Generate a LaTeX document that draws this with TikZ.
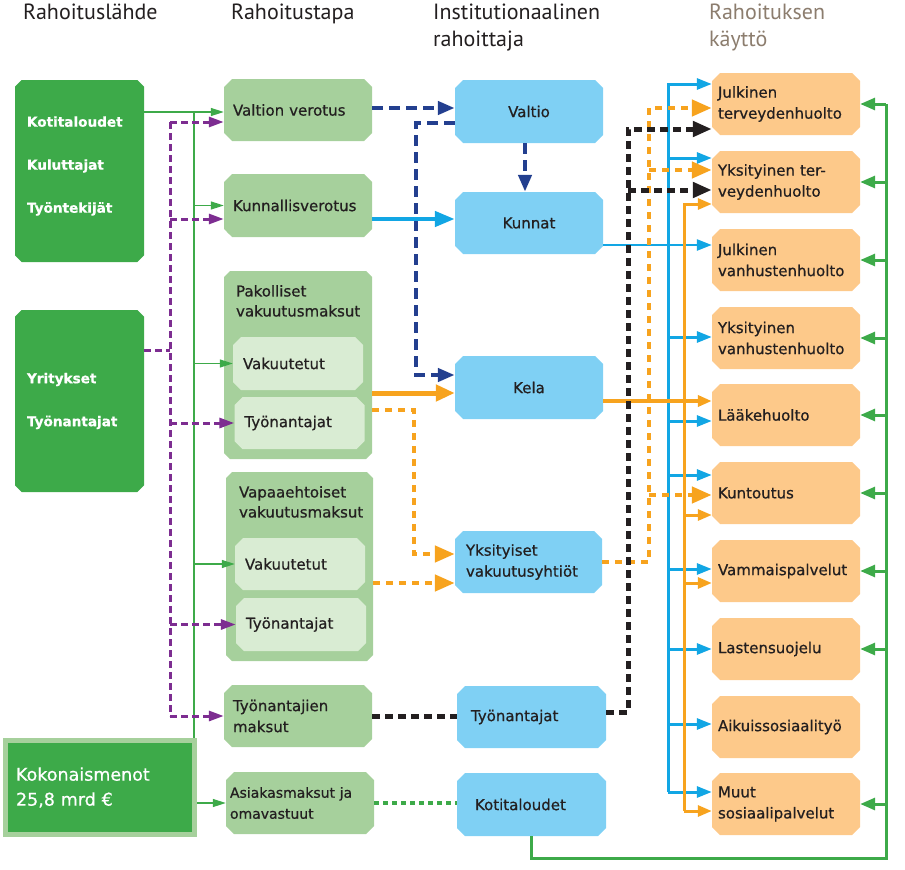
\documentclass[tikz,border=0pt]{standalone}
\usepackage{fontspec}
\setmainfont{DejaVu Sans}[FakeBold=0.7]
\newfontfamily\headfont{PT Sans}
\usetikzlibrary{arrows.meta,shapes.misc}
\definecolor{srcgreen}{RGB}{61,170,73}
\definecolor{waygreen}{RGB}{166,208,156}
\definecolor{subgreen}{RGB}{217,236,211}
\definecolor{instblue}{RGB}{127,208,244}
\definecolor{useorange}{RGB}{253,201,138}
\definecolor{navyline}{RGB}{35,63,143}
\definecolor{blueline}{RGB}{18,166,228}
\definecolor{orangeline}{RGB}{247,163,30}
\definecolor{darkline}{RGB}{35,31,32}
\definecolor{purpleline}{RGB}{125,45,145}
\definecolor{headbrown}{RGB}{140,125,110}
\begin{document}
\begin{tikzpicture}[x=1pt, y=-1pt,
  headtext/.style={anchor=north west, inner sep=0pt, align=left, text=darkline, font=\headfont\fontsize{22}{26.5}\selectfont},
  srcbox/.style={chamfered rectangle, chamfered rectangle sep=12pt, fill=srcgreen, minimum width=129pt, minimum height=182pt},
  srclabel/.style={anchor=west, xshift=12pt, inner sep=0pt, align=left, text=white, font=\bfseries\fontsize{13.6}{43}\selectfont},
  flatbox/.style={chamfered rectangle, chamfered rectangle sep=4pt, inner ysep=2pt, text=darkline, font=\fontsize{15}{21}\selectfont},
  waybox/.style={flatbox, fill=waygreen, minimum width=148pt, minimum height=62pt, text width=130pt, inner xsep=5pt, align=left},
  subbox/.style={flatbox, fill=subgreen, minimum width=130pt, minimum height=53pt, text width=110pt, inner xsep=6pt, align=left},
  titletext/.style={anchor=north west, xshift=9pt, yshift=-11pt, inner sep=0pt, align=left, text=darkline, font=\fontsize{15}{20}\selectfont},
  instbox/.style={flatbox, fill=instblue, minimum width=148pt, minimum height=62pt, align=center},
  usebox/.style={flatbox, fill=useorange, minimum width=148pt, minimum height=62pt, text width=136pt, inner xsep=2pt, align=left},
  greenthin/.style={srcgreen, line width=1.3pt, -{Triangle[length=13pt,width=8pt]}},
  greenback/.style={srcgreen, line width=3pt, -{Triangle[length=15pt,width=12pt]}},
  greendots/.style={srcgreen, line width=3.5pt, dash pattern=on 5pt off 4pt},
  purpledash/.style={purpleline, line width=3pt, dash pattern=on 7pt off 4pt, -{Triangle[length=15pt,width=10pt]}},
  navydash/.style={navyline, line width=4.5pt, dash pattern=on 11pt off 6pt, -{Triangle[length=17pt,width=13pt]}},
  bluethick/.style={blueline, line width=4.5pt, -{Triangle[length=20pt,width=15pt]}},
  blueflow/.style={blueline, line width=3pt, -{Triangle[length=15pt,width=11pt]}},
  orangethick/.style={orangeline, line width=5pt, -{Triangle[length=19pt,width=16pt]}},
  orangeflow/.style={orangeline, line width=3pt, -{Triangle[length=14pt,width=11pt]}},
  orangedots/.style={orangeline, line width=4.5pt, dash pattern=on 6.5pt off 6.5pt, -{Triangle[length=20pt,width=16pt]}},
  darkdots/.style={darkline, line width=5pt, dash pattern=on 8pt off 5pt, -{Triangle[length=19pt,width=15pt]}}]
\useasboundingbox (0,0) rectangle (905,870);
% headers
\node[headtext] (hlahde) at (23,4) {Rahoituslähde};
\node[headtext] (htapa) at (231,4) {Rahoitustapa};
\node[headtext] (hinst) at (433,4) {Institutionaalinen\\rahoittaja};
\node[headtext, text=headbrown] (hkaytto) at (709,4) {Rahoituksen\\käyttö};
% rahoituslähde
\node[srcbox, label={[srclabel, yshift=5pt]west:Kotitaloudet\\Kuluttajat\\Työntekijät}] (kotit) at (79.5,171) {};
\node[srcbox, label={[srclabel]west:Yritykset\\Työnantajat}] (yrit) at (79.5,401) {};
\node[fill=srcgreen, draw=waygreen, line width=5pt, minimum width=189pt, minimum height=94pt, text width=168pt, inner xsep=10.5pt, align=left, text=white, font=\fontsize{17.5}{25}\selectfont] (kokon) at (100,787.5) {Kokonaismenot\\25,8 mrd €};
% rahoitustapa
\node[waybox] (valver) at (298,110) {Valtion verotus};
\node[waybox, minimum height=63pt] (kunver) at (298,205.5) {Kunnallisverotus};
\node[waybox, minimum height=188pt, label={[titletext]north west:Pakolliset\\vakuutusmaksut}] (pakol) at (298,365) {};
\node[subbox] (pakvak) at (298,363.5) {Vakuutetut};
\node[subbox, minimum height=52pt] (paktyo) at (299.5,423) {Työnantajat};
\node[waybox, minimum width=147pt, minimum height=189pt, label={[titletext, xshift=1pt]north west:Vapaaehtoiset\\vakuutusmaksut}] (vapaa) at (299.5,566.5) {};
\node[subbox, minimum height=52pt] (vapvak) at (300,564) {Vakuutetut};
\node[subbox] (vaptyo) at (301,624.5) {Työnantajat};
\node[waybox] (tyomak) at (298,716) {Työnantajien\\maksut};
\node[waybox, text width=140pt, inner xsep=0pt, font=\fontsize{14}{21}\selectfont] (asiak) at (300,803) {Asiakasmaksut ja\\omavastuut};
% institutionaalinen rahoittaja
\node[instbox, minimum height=63pt] (valtio) at (529,111.5) {Valtio};
\node[instbox] (kunnat) at (529,223) {Kunnat};
\node[instbox, minimum height=63pt] (kela) at (529,387.5) {Kela};
\node[instbox, minimum width=147pt, text width=125pt, align=left] (yvak) at (528.5,562) {Yksityiset\\vakuutusyhtiöt};
\node[instbox, minimum width=149pt, text width=121pt, align=left] (tyonan) at (531.5,717) {Työnantajat};
\node[instbox, minimum width=149pt, minimum height=63pt, text width=113pt, align=left] (kotital) at (531.5,804.5) {Kotitaloudet};
% rahoituksen käyttö
\node[usebox] (jterv) at (786,104) {Julkinen\\terveydenhuolto};
\node[usebox] (ykterv) at (786,182) {Yksityinen ter-\\veydenhuolto};
\node[usebox] (jvanh) at (786,260) {Julkinen\\vanhustenhuolto};
\node[usebox] (ykvanh) at (786,338) {Yksityinen\\vanhustenhuolto};
\node[usebox] (laake) at (786,415) {Lääkehuolto};
\node[usebox] (kunto) at (786,493) {Kuntoutus};
\node[usebox] (vamma) at (786,571) {Vammaispalvelut};
\node[usebox] (laste) at (786,649) {Lastensuojelu};
\node[usebox] (aikui) at (786,727) {Aikuissosiaalityö};
\node[usebox] (muut) at (786,804) {Muut\\sosiaalipalvelut};
% green source lines
\coordinate (gsrc) at (194,112);
\draw[greenthin, -] (gsrc) -- (gsrc |- kokon.north);
\draw[greenthin] (kotit.east |- gsrc) -- (valver.west |- gsrc);
\draw[greenthin] (gsrc |- kunver.west) -- (kunver.west);
\draw[greenthin] (gsrc |- pakvak.west) -- (pakvak.west);
\draw[greenthin] (gsrc |- vapvak.west) -- (vapvak.west);
\draw[greenthin] (kokon.east |- asiak.west) -- (asiak.west);
% purple lines
\coordinate (pbus) at (170,350);
\draw[purpledash, -] (yrit.east |- pbus) -- (pbus);
\draw[purpledash, -] (pbus |- 0,122) -- (pbus |- tyomak.west);
\draw[purpledash] (pbus |- 0,122) -- (valver.west |- 0,122);
\draw[purpledash] (pbus |- 0,219) -- (kunver.west |- 0,219);
\draw[purpledash] (pbus |- paktyo.west) -- (paktyo.west);
\draw[purpledash] (pbus |- vaptyo.west) -- (vaptyo.west);
\draw[purpledash] (pbus |- tyomak.west) -- (tyomak.west);
% valtio
\coordinate (nbus) at (416,375);
\draw[navydash] (valver.east |- 0,108) -- (valtio.west |- 0,108);
\draw[navydash] (valtio.west |- 0,123) -| (nbus) -- (kela.west |- nbus);
\draw[navydash] ([xshift=-4pt]valtio.south) -- ([xshift=-4pt]kunnat.north);
% kunnat
\coordinate (bbus) at (668,245);
\draw[bluethick] (kunver.east |- 0,219) -- (kunnat.west |- 0,219);
\draw[blueflow, line width=2.5pt] (kunnat.east |- bbus) -- (jvanh.west |- bbus);
\draw[blueflow] (bbus |- 0,792) -- (bbus |- 0,84) -- (jterv.west |- 0,84);
\draw[blueflow] (bbus |- 0,158) -- (ykterv.west |- 0,158);
\draw[blueflow] (bbus |- 0,337) -- (ykvanh.west |- 0,337);
\draw[blueflow] (bbus |- 0,421) -- (laake.west |- 0,421);
\draw[blueflow] (bbus |- 0,475) -- (kunto.west |- 0,475);
\draw[blueflow] (bbus |- 0,569) -- (vamma.west |- 0,569);
\draw[blueflow] (bbus |- 0,649) -- (laste.west |- 0,649);
\draw[blueflow] (bbus |- 0,724) -- (aikui.west |- 0,724);
\draw[blueflow] (bbus |- 0,792) -- (muut.west |- 0,792);
% kela
\coordinate (obus) at (684,401);
\draw[orangethick] (pakol.east |- 0,393) -- (kela.west |- 0,393);
\draw[orangeflow, line width=3.5pt] (kela.east |- obus) -- (laake.west |- obus);
\draw[orangeflow] (obus |- 0,811) -- (obus |- 0,204) -- (ykterv.west |- 0,204);
\draw[orangeflow] (obus |- 0,515) -- (kunto.west |- 0,515);
\draw[orangeflow] (obus |- 0,583) -- (vamma.west |- 0,583);
\draw[orangeflow] (obus |- 0,811) -- (muut.west |- 0,811);
% yksityiset vakuutusyhtiot
\coordinate (odot) at (414,554);
\coordinate (odotr) at (649,562);
\draw[orangedots] (pakol.east |- 0,410) -| (odot) -- (yvak.west |- odot);
\draw[orangedots] (vapaa.east |- 0,583) -- (yvak.west |- 0,583);
\draw[orangedots] (yvak.east |- odotr) -- (odotr) |- (jterv.west |- 0,108);
\draw[orangedots] (odotr |- 0,170) -- (ykterv.west |- 0,170);
\draw[orangedots] (odotr |- 0,495) -- (kunto.west |- 0,495);
% tyonantajat
\coordinate (kbus) at (628,712);
\draw[darkdots, -] (tyomak.east) -- (tyonan.west |- tyomak.east);
\draw[darkdots] (tyonan.east |- kbus) -- (kbus) |- (jterv.west |- 0,129);
\draw[darkdots] (kbus |- 0,190) -- (ykterv.west |- 0,190);
% kotitaloudet
\coordinate (gbot) at (886,858);
\draw[greendots] (asiak.east) -- (kotital.west |- asiak.east);
\draw[greenback, -] (kotital.south) |- (gbot) -- (gbot |- jterv.east);
\draw[greenback] (gbot |- jterv.east) -- (jterv.east);
\draw[greenback] (gbot |- ykterv.east) -- (ykterv.east);
\draw[greenback] (gbot |- jvanh.east) -- (jvanh.east);
\draw[greenback] (gbot |- ykvanh.east) -- (ykvanh.east);
\draw[greenback] (gbot |- laake.east) -- (laake.east);
\draw[greenback] (gbot |- kunto.east) -- (kunto.east);
\draw[greenback] (gbot |- vamma.east) -- (vamma.east);
\draw[greenback] (gbot |- laste.east) -- (laste.east);
\draw[greenback] (gbot |- muut.east) -- (muut.east);
\end{tikzpicture}
\end{document}
